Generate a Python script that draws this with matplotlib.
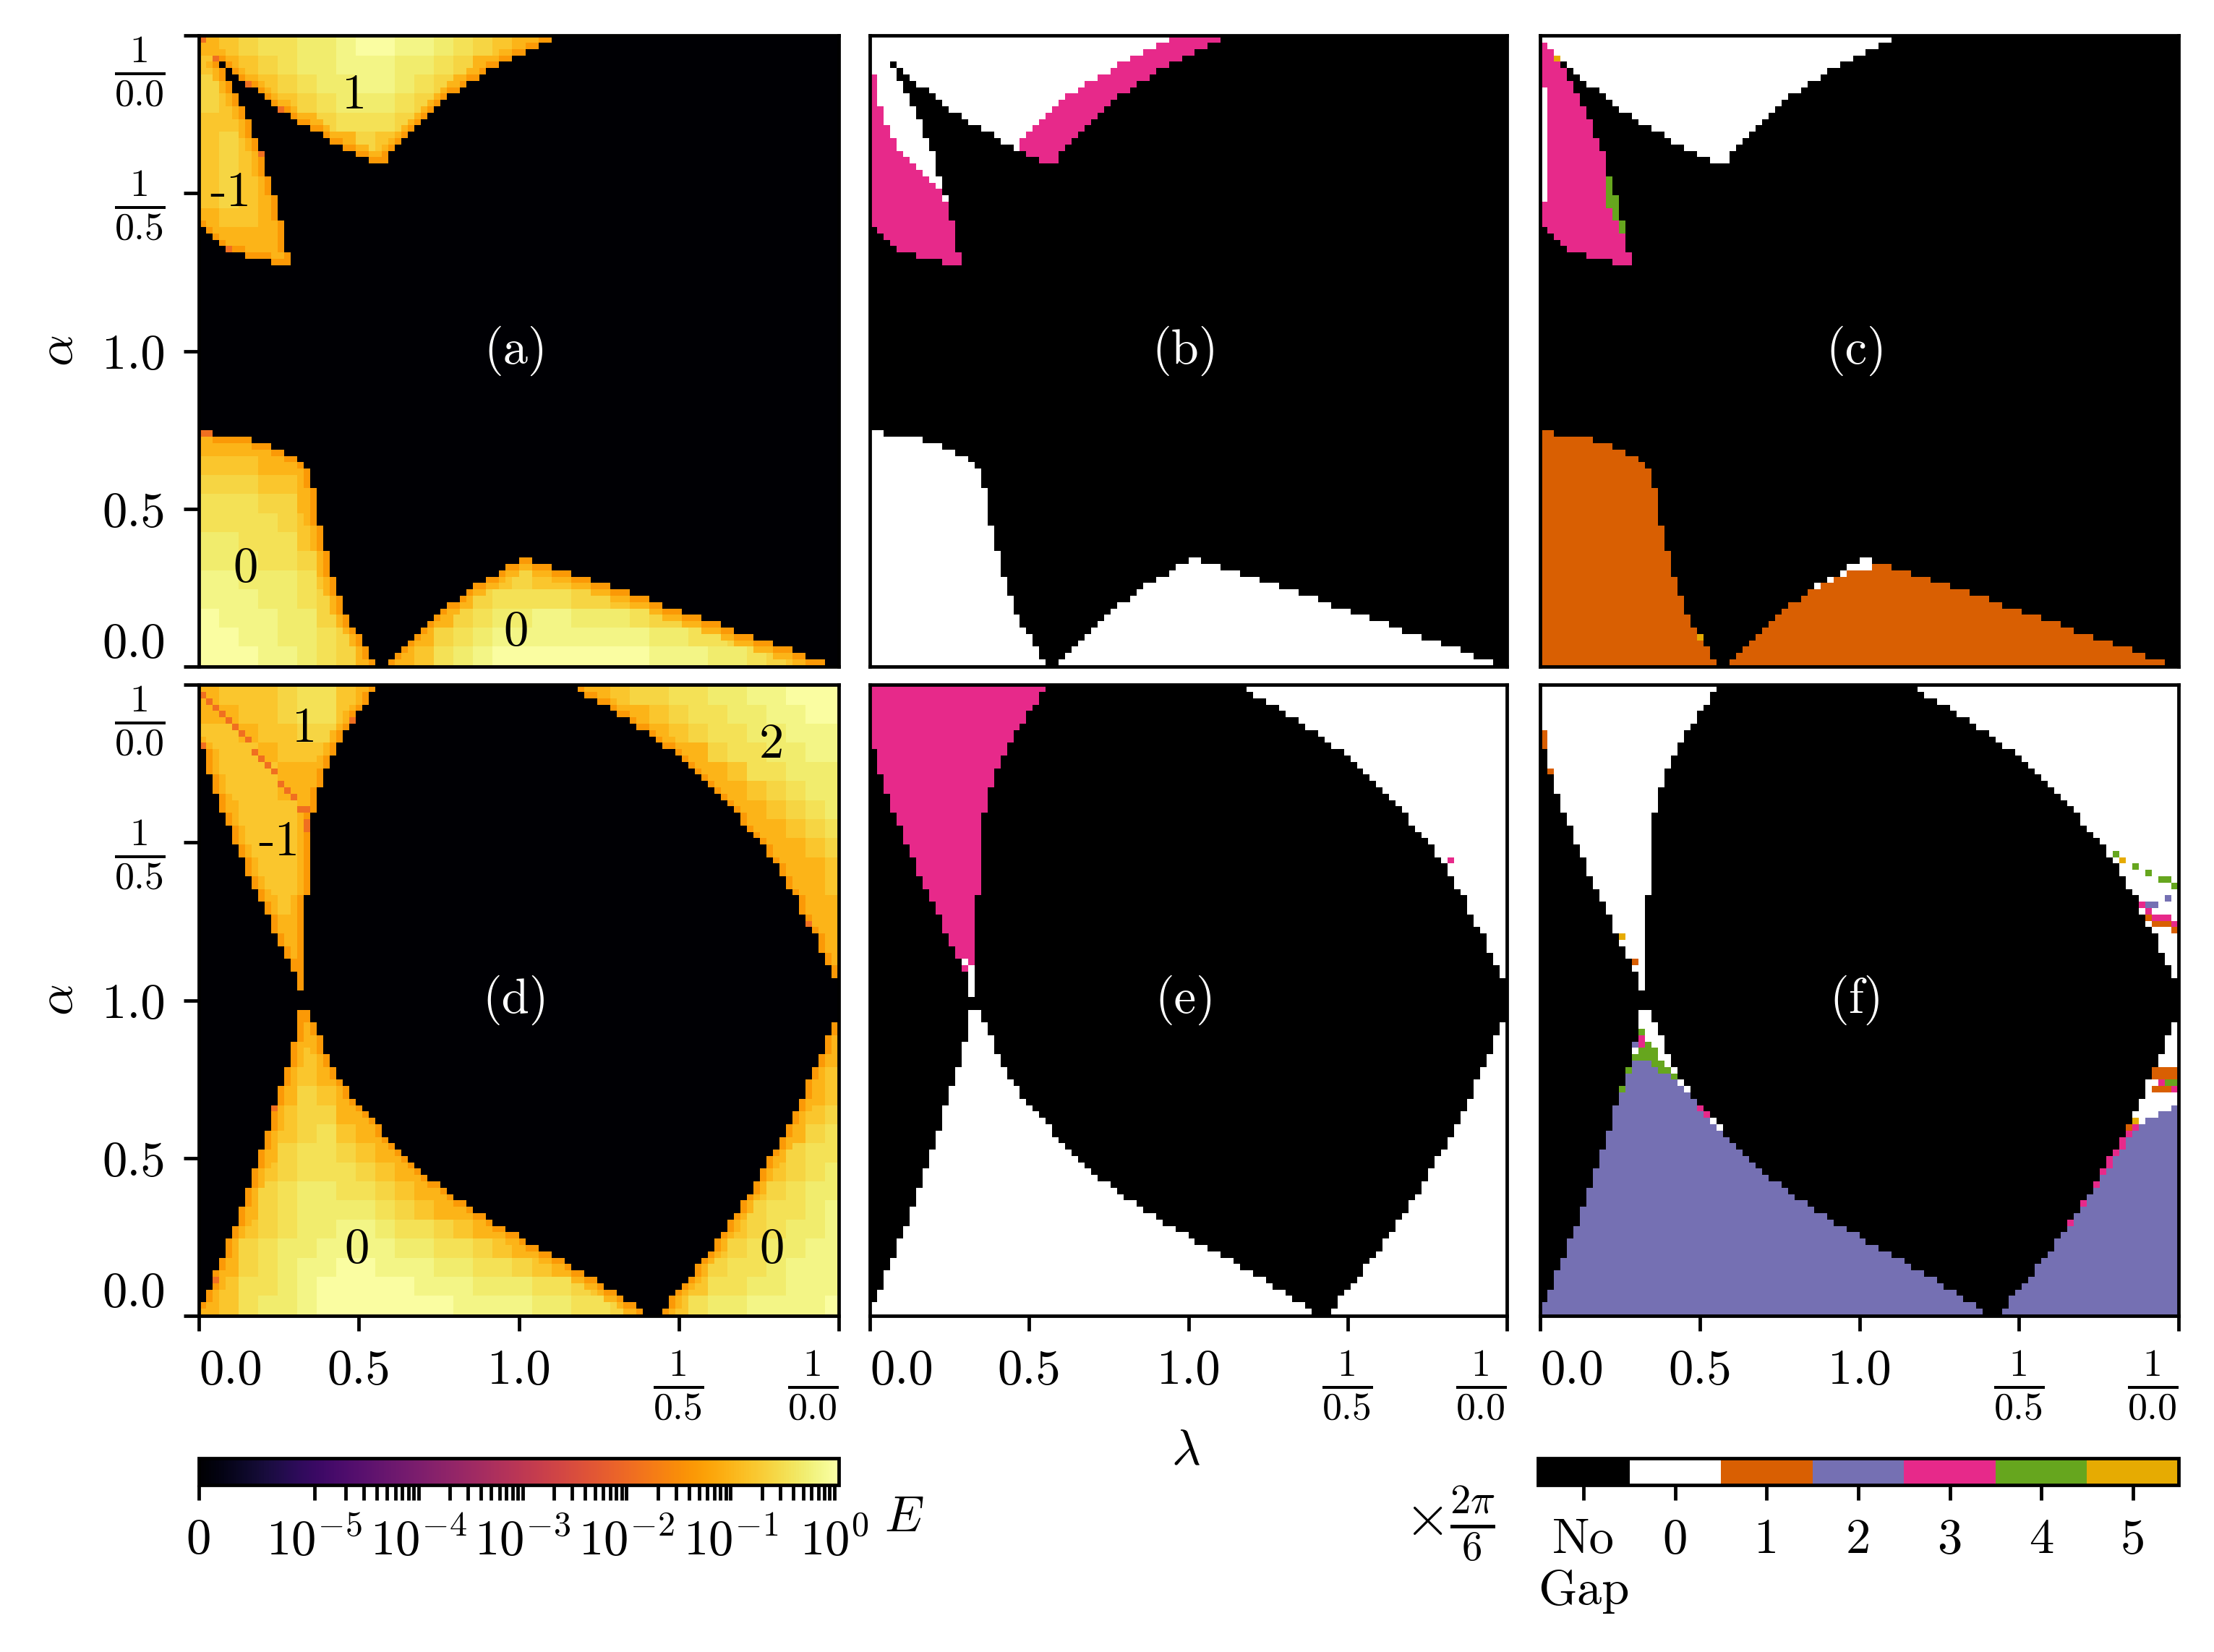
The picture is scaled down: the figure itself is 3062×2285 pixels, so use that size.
import numpy as np
import matplotlib
matplotlib.use("Agg")
import matplotlib.pyplot as plt
from matplotlib.cm import ScalarMappable
from matplotlib.colors import ListedColormap, BoundaryNorm, SymLogNorm

plt.rcParams['font.family'] = 'cmr10'
plt.rcParams['mathtext.fontset'] = 'cm'
plt.rcParams['axes.unicode_minus'] = False
plt.rcParams['axes.formatter.use_mathtext'] = True

W, H = 3062, 2285
NX, NY = 98, 99

# gap categories, index = code in the grids
BLACK, WHITE, ORANGE, PURPLE, PINK, GREEN, YELLOW = range(7)
gap_colors = ['#000000', '#ffffff', '#d95f02', '#7570b3', '#e7298a', '#66a61e', '#e6ab02']
gap_labels = ['No\nGap', '0', '1', '2', '3', '4', '5']

# top row outline (a, b, c), in cells per column
LO_TOP = [37, 37] + [36] * 6 + [35] * 3 + [34, 34, 33, 33, 32, 31, 28, 22, 18, 14, 11, 8, 6, 5, 3, 1, 0, 0,
          1, 2, 3, 4, 5, 6, 7, 8, 9, 10, 10, 11, 12, 13, 13, 14, 14, 15, 16, 16, 17, 17, 16, 16, 16,
          15, 15, 15, 14, 14, 14, 13, 13, 13, 12, 12, 12, 11, 11, 11, 10, 10, 9, 9, 9, 8, 8, 8,
          7, 7, 7, 6, 6, 5, 5, 5, 4, 4, 4, 3, 3, 3, 2, 2, 1, 1, 1, 0, 0]
V_DEPTH = [1, 2, 3, 4, 5, 6, 7, 8, 8, 9, 10, 11, 12, 12, 13, 14, 14, 15, 15, 16,
           17, 17, 18, 18, 19, 19, 20, 20, 20, 18, 17, 16, 15, 14, 13, 12, 11, 10, 9, 9,
           8, 7, 7, 6, 5, 5, 4, 4, 3, 3, 2, 2, 1, 1, 0, 0]
WEDGE_TOP = [1, 2, 3, 5, 7, 9, 11, 13, 16, 18, 22, 25, 29, 34]
WEDGE_BOT = [30, 31, 32, 33, 34, 34, 34, 35, 35, 35, 35, 36, 36, 36]
B_WEDGE_PINK = [6, 11, 14, 16, 18, 19, 20, 21, 22, 23, 24, 26, 29, 34]
B_V_PINK = [16, 15, 14, 13, 12, 11, 10, 9, 9, 8, 7, 7, 6, 6, 5, 4, 4, 3, 3, 2, 2, 1, 1, 0, 0]  # from col 23
# (col, depth from top, code)
C_UPPER_CELLS = [(0, d, WHITE) for d in range(8, 26)] + [(10, d, GREEN) for d in range(22, 27)] + \
    [(11, d, GREEN) for d in range(25, 29)] + [(12, 29, GREEN), (12, 30, GREEN), (2, 3, YELLOW)]
# (col, height from bottom, code)
C_LOWER_CELLS = [(42, 12, WHITE), (44, 13, WHITE), (46, 14, WHITE), (47, 15, WHITE), (48, 15, WHITE),
                 (49, 15, WHITE), (49, 16, WHITE), (50, 15, WHITE), (50, 16, WHITE), (24, 4, YELLOW)]

# bottom row outline (d, e, f)
LO_BOT = [2, 4, 7, 9, 12, 14, 17, 20, 23, 26, 29, 33, 36, 39, 43, 48, 48, 46, 44, 41, 39, 37, 36, 34, 33, 32,
          31, 30, 28, 27, 26, 25, 24, 23, 22, 21, 21, 20, 19, 18, 18, 17, 16, 16, 15, 14, 14, 13, 13, 12,
          11, 11, 10, 10, 9, 9, 8, 7, 7, 6, 6, 5, 4, 4, 3, 2, 2, 1, 0, 0, 0, 1, 3, 4, 5, 6, 8, 9, 10, 12,
          13, 15, 16, 18, 19, 21, 23, 25, 26, 28, 30, 32, 34, 37, 39, 41, 44, 46]
UL_DEPTH = [10, 14, 17, 20, 22, 25, 27, 30, 32, 34, 36, 39, 41, 43, 45, 48, 33, 20, 16, 13, 11, 9, 7, 6, 4, 3, 1]
UR_DEPTH = [1, 2, 2, 3, 3, 4, 5, 5, 6, 7, 7, 8, 9, 10, 10, 11, 12, 13, 14, 15, 16, 17, 18, 19, 20, 22, 23, 24, 25,
            27, 28, 30, 32, 33, 36, 38, 39, 42, 44, 46]  # from col 58
E_UPPER_CELLS = [(14, 43, WHITE), (15, 44, WHITE), (15, 45, WHITE), (15, 46, WHITE), (15, 47, WHITE),
                 (15, 48, WHITE), (89, 27, PINK)]
F_UPPER_CELLS = [(0, 7, ORANGE), (0, 8, ORANGE), (0, 9, ORANGE), (1, 13, ORANGE), (12, 39, YELLOW), (14, 43, ORANGE),
                 (88, 26, GREEN), (89, 27, YELLOW), (91, 28, GREEN), (93, 29, GREEN), (95, 30, GREEN), (96, 30, GREEN),
                 (97, 31, GREEN), (96, 33, PURPLE), (92, 34, PINK), (93, 34, PURPLE), (94, 34, PURPLE), (93, 35, PINK),
                 (93, 36, ORANGE), (94, 36, PINK), (95, 36, PINK), (96, 36, PINK), (94, 37, ORANGE), (95, 37, ORANGE),
                 (96, 37, ORANGE), (97, 37, PINK), (97, 38, ORANGE)]
# height of the purple part where it stops below the outline
F_PURPLE_TOP = {12: 35, 13: 38, 14: 40, 15: 40, 16: 40, 17: 39, 18: 38, 19: 38, 20: 37, 21: 36, 22: 35, 24: 32, 25: 31,
                26: 30, 27: 29, 81: 14, 83: 17, 85: 20, 86: 22, 87: 23, 88: 25, 89: 26, 90: 28, 91: 29, 92: 30, 93: 31,
                94: 31, 95: 32, 96: 32, 97: 33}
F_LOWER_CELLS = [(12, 35, GREEN), (13, 38, GREEN), (14, 40, GREEN), (14, 41, WHITE), (14, 42, PURPLE),
                 (15, 40, GREEN), (15, 41, GREEN), (15, 42, PINK), (15, 43, PINK), (15, 44, GREEN),
                 (16, 40, GREEN), (16, 41, GREEN), (16, 42, GREEN), (17, 39, GREEN), (17, 40, GREEN), (17, 41, GREEN),
                 (18, 38, GREEN), (18, 39, GREEN), (19, 38, GREEN), (20, 37, GREEN), (24, 32, PINK), (25, 31, PINK),
                 (81, 14, PINK), (83, 17, PINK), (85, 20, PINK), (86, 22, PINK), (87, 23, PINK), (87, 24, PINK),
                 (88, 25, PINK), (89, 26, PINK), (89, 27, PINK), (90, 28, PINK), (90, 29, ORANGE),
                 (91, 29, PINK), (91, 30, YELLOW), (94, 35, ORANGE), (95, 35, ORANGE), (96, 35, ORANGE), (97, 35, PINK),
                 (95, 36, PINK), (96, 36, GREEN), (97, 36, GREEN), (94, 37, ORANGE), (95, 37, ORANGE), (96, 37, ORANGE),
                 (97, 37, ORANGE), (94, 38, ORANGE), (95, 38, ORANGE), (96, 38, ORANGE), (97, 38, ORANGE)]

# E (a) and (d): brightness class per block of 3x3 cells,
# one entry per row of blocks, (first block, classes)
E_CLASSES = [1.0, 0.7, 0.5, 0.35, 0.25, 0.16, 0.1, 0.07, 0.045, 0.012]
A_BLOCKS = [
    [(0, "6543322100112345678")],
    [(0, "565432211122346")],
    [(0, "46754322112346")],
    [(0, "4567543222346")],
    [(0, "556"), (5, "6433346")],
    [(0, "5457"), (7, "6456")],
    [(0, "5456"), (8, "77")],
    [(0, "5456")],
    [(0, "5456")],
    [(0, "65567")],
    [(0, "76667")],
    [(0, "88778")],
    [], [], [], [], [], [], [], [],
    [(0, "9")],
    [(0, "77778")],
    [(0, "555678")],
    [(0, "444557")],
    [(0, "333446")],
    [(0, "3333458")],
    [(0, "2233357")],
    [(0, "22233468"), (14, "87678")],
    [(0, "11222358"), (13, "865455678")],
    [(0, "11122347"), (12, "8643333445678")],
    [(0, "01112245"), (11, "86432211222344568")],
    [(0, "001122347"), (10, "864321111111122334578")],
    [(0, "000112346"), (9, "975321000000001112234579")],
]
D_BLOCKS = [
    [(0, "6555433569"), (19, "86544332211000")],
    [(0, "675543357"), (21, "765433221100")],
    [(0, "55655446"), (23, "7543322111")],
    [(0, "55575557"), (24, "764332211")],
    [(0, "6555766"), (25, "76533222")],
    [(0, "6555687"), (26, "7654322")],
    [(0, "7655577"), (27, "765432")],
    [(1, "655568"), (28, "86543")],
    [(1, "755568"), (29, "7654")],
    [(2, "65567"), (29, "8765")],
    [(2, "75567"), (30, "875")],
    [(3, "6567"), (31, "86")],
    [(3, "7668"), (31, "97")],
    [(4, "678"), (32, "7")],
    [(4, "778"), (32, "8")],
    [(4, "88")],
    [(5, "8")],
    [(5, "7"), (32, "8")],
    [(4, "868"), (32, "7")],
    [(4, "757"), (31, "96")],
    [(4, "6568"), (31, "85")],
    [(3, "86457"), (30, "865")],
    [(3, "754469"), (29, "9754")],
    [(3, "6543568"), (29, "7643")],
    [(3, "64334578"), (28, "86433")],
    [(2, "8543334578"), (28, "75432")],
    [(2, "743223345789"), (27, "754322")],
    [(2, "64322223456789"), (26, "8643321")],
    [(1, "8543221123345678"), (26, "7543221")],
    [(1, "743221111223345679"), (25, "75432211")],
    [(0, "964321100111223345679"), (24, "864332111")],
    [(0, "85332100000111222334568"), (23, "9653322111")],
    [(0, "653221000000011112233469532211110")],
]
# darker single cells on the boundaries, (col, depth)
A_EDGE = [(0, 0), (2, 3), (7, 7), (12, 11), (9, 18), (4, 33), (0, 62), (1, 62), (19, 80), (43, 85), (69, 87),
          (38, 88), (66, 86), (24, 93)]
D_EDGE = [(0, 1), (1, 2), (2, 3), (3, 4), (4, 5), (5, 6), (6, 7), (7, 8), (8, 10), (9, 11), (10, 12), (11, 13),
          (12, 15), (13, 16), (14, 17), (15, 19), (16, 19), (16, 21), (16, 22), (16, 33), (0, 9), (7, 30), (11, 39),
          (23, 5), (11, 66), (82, 20), (93, 37), (2, 93)]

x_ticks_labels = ['0.0', '0.5', '1.0', r'$\frac{1}{0.5}$', r'$\frac{1}{0.0}$']
y_ticks_labels = ['0.0', '0.5', '1.0', r'$\frac{1}{0.5}$', r'$\frac{1}{0.0}$']
cbar_decades = [1e-5, 1e-4, 1e-3, 1e-2, 1e-1, 1e0]
FS = 16.5
FRAC_FS = 18.5


def top_grid(lower, vee, wedge):
    g = np.zeros((NY, NX), dtype=int)
    for c in range(NX):
        if LO_TOP[c] > 0:
            g[NY - LO_TOP[c]:, c] = lower
        if c < len(V_DEPTH):
            g[:V_DEPTH[c], c] = vee
        if c < len(WEDGE_TOP):
            g[WEDGE_TOP[c]:WEDGE_BOT[c], c] = wedge
    return g


def bottom_grid(lower, left, right):
    g = np.zeros((NY, NX), dtype=int)
    for c in range(NX):
        if LO_BOT[c] > 0:
            g[NY - LO_BOT[c]:, c] = lower
        if c < len(UL_DEPTH):
            g[:UL_DEPTH[c], c] = left
        if c >= 58:
            g[:UR_DEPTH[c - 58], c] = right
    return g


def put_upper(g, cells):
    for c, d, v in cells:
        g[d, c] = v


def put_lower(g, cells):
    for c, h, v in cells:
        g[NY - 1 - h, c] = v


def touches(m):
    # cells with a 4-neighbour in m
    p = np.pad(m, 1, constant_values=False)
    return p[:-2, 1:-1] | p[2:, 1:-1] | p[1:-1, :-2] | p[1:-1, 2:]


def energy(mask, blocks, edge):
    e = np.zeros((NY, NX))
    for r, row in enumerate(blocks):
        for first, classes in row:
            for i, ch in enumerate(classes):
                b = first + i
                # the table holds the inside of the region, the rim comes below
                e[3 * r:3 * r + 3, 3 * b:3 * b + 3] = E_CLASSES[min(int(ch), 6)]
    inside = mask > 0
    e[inside & (e == 0)] = E_CLASSES[6]
    # orange rim along the outline, two cells wide
    rim1 = inside & touches(~inside)
    rim2 = inside & ~rim1 & touches(rim1)
    e[rim2] = np.minimum(e[rim2], E_CLASSES[6])
    e[rim1] = np.minimum(e[rim1], E_CLASSES[8])
    for c, d in edge:
        e[d, c] = E_CLASSES[9]
    e[~inside] = 0
    return e


# panel grids
mask_a = top_grid(1, 1, 1)
mask_d = bottom_grid(1, 1, 1)
e_a = energy(mask_a, A_BLOCKS, A_EDGE)
e_d = energy(mask_d, D_BLOCKS, D_EDGE)

gap_b = top_grid(WHITE, WHITE, WHITE)
for c, p in enumerate(B_WEDGE_PINK):
    gap_b[p:WEDGE_BOT[c], c] = PINK
for c in range(23, len(V_DEPTH)):
    p = B_V_PINK[c - 23] if c - 23 < len(B_V_PINK) else 0
    gap_b[p:V_DEPTH[c], c] = PINK

gap_c = top_grid(ORANGE, WHITE, PINK)
put_upper(gap_c, C_UPPER_CELLS)
put_lower(gap_c, C_LOWER_CELLS)

gap_e = bottom_grid(WHITE, PINK, WHITE)
put_upper(gap_e, E_UPPER_CELLS)

gap_f = bottom_grid(PURPLE, WHITE, WHITE)
for c, h in F_PURPLE_TOP.items():
    gap_f[NY - LO_BOT[c]:NY - h, c] = WHITE
put_upper(gap_f, F_UPPER_CELLS)
put_lower(gap_f, F_LOWER_CELLS)

# figure
fig = plt.figure(figsize=(W / 300, H / 300), dpi=300)


def px_axes(x0, x1, y0, y1):
    return fig.add_axes([x0 / W, 1 - y1 / H, (x1 - x0) / W, (y1 - y0) / H])


norm_e = SymLogNorm(linthresh=1e-5, linscale=1.0, vmin=0, vmax=1.1, base=10)
cmap_e = plt.get_cmap('inferno')
cmap_gap = ListedColormap(gap_colors)
norm_gap = BoundaryNorm(np.arange(-0.5, 7.5), 7)

x_spots = [275, 1203, 2130]
x_ends = [1160, 2084, 3013]
y_spots = [49, 947]
y_ends = [922, 1820]
panels = [[(e_a, '(a)'), (gap_b, '(b)'), (gap_c, '(c)')],
          [(e_d, '(d)'), (gap_e, '(e)'), (gap_f, '(f)')]]
INSET = 0.15
xt = np.linspace(-INSET, NX + INSET, 5)
yt = np.linspace(NY + INSET, -INSET, 5)

axs = {}
for r in range(2):
    for c in range(3):
        ax = px_axes(x_spots[c], x_ends[c], y_spots[r], y_ends[r])
        grid, name = panels[r][c]
        if c == 0:
            ax.pcolormesh(np.arange(NX + 1), np.arange(NY + 1), grid, cmap=cmap_e, norm=norm_e, antialiased=False)
        else:
            ax.pcolormesh(np.arange(NX + 1), np.arange(NY + 1), grid, cmap=cmap_gap, norm=norm_gap, antialiased=False)
        ax.set_xlim(-INSET, NX + INSET)
        ax.set_ylim(NY + INSET, -INSET)
        ax.set_facecolor('white')
        for s in ax.spines.values():
            s.set_linewidth(1.15)
        ax.tick_params(width=1.15, length=5, labelsize=FS, pad=6)
        ax.set_xticks(xt if r == 1 else [])
        ax.set_yticks(yt if c == 0 else [])
        if r == 1:
            ax.set_xticklabels(x_ticks_labels)
            labs = ax.get_xticklabels()
            labs[0].set_ha('left')
            labs[-1].set_ha('right')
            labs[3].set_fontsize(FRAC_FS)
            labs[4].set_fontsize(FRAC_FS)
        if c == 0:
            ax.set_yticklabels(y_ticks_labels)
            labs = ax.get_yticklabels()
            labs[0].set_va('bottom')
            labs[-1].set_va('top')
            labs[3].set_fontsize(FRAC_FS)
            labs[4].set_fontsize(FRAC_FS)
        ax.text(0.495, 0.5, name, color='white', fontsize=FS, ha='center', va='center', transform=ax.transAxes)
        axs[(r, c)] = ax

# region numbers
for ax, x, y, s in [(axs[(0, 0)], 0.243, 0.905, '1'), (axs[(0, 0)], 0.05, 0.75, '-1'),
                    (axs[(0, 0)], 0.073, 0.155, '0'), (axs[(0, 0)], 0.495, 0.055, '0'),
                    (axs[(1, 0)], 0.165, 0.93, '1'), (axs[(1, 0)], 0.125, 0.75, '-1'),
                    (axs[(1, 0)], 0.895, 0.905, '2'), (axs[(1, 0)], 0.247, 0.105, '0'),
                    (axs[(1, 0)], 0.895, 0.105, '0')]:
    ax.text(x, y, s, color='black', fontsize=FS, ha='center', va='center', transform=ax.transAxes)


def fig_text(x, y, s, size=FS, **kw):
    fig.text(x / W, 1 - y / H, s, fontsize=size, ha='center', va='center', **kw)


fig_text(82, 485, r'$\alpha$', rotation=90)
fig_text(82, 1383, r'$\alpha$', rotation=90)
fig_text(1640, 2008, r'$\lambda$')
fig_text(1250, 2100, r'$E$')
fig_text(2005, 2107, r'$\times\frac{2\pi}{6}$', size=FRAC_FS + 1)

# colorbars
cax = px_axes(275, 1160, 2017, 2054)
cb = fig.colorbar(ScalarMappable(norm=norm_e, cmap=cmap_e), cax=cax, orientation='horizontal')
tick_vals = [0.0]
tick_text = ['0']
for d in cbar_decades:
    for m in range(1, 10):
        if d == 1e0 and m > 1:
            break
        tick_vals.append(d * m)
        tick_text.append(r'$10^{%d}$' % round(np.log10(d)) if m == 1 else '')
cb.ax.minorticks_off()
cb.set_ticks(tick_vals)
cb.set_ticklabels(tick_text)
cb.ax.tick_params(width=1.15, length=5, labelsize=FS, pad=6)
cb.outline.set_linewidth(1.15)

cax2 = px_axes(2127, 3013, 2017, 2054)
cb2 = fig.colorbar(ScalarMappable(norm=norm_gap, cmap=cmap_gap), cax=cax2, orientation='horizontal')
cb2.ax.minorticks_off()
cb2.set_ticks(np.arange(7))
cb2.set_ticklabels(gap_labels)
cb2.ax.tick_params(width=1.15, length=5, labelsize=FS, pad=6)
cb2.outline.set_linewidth(1.15)

fig.savefig('out.png', dpi=300)
